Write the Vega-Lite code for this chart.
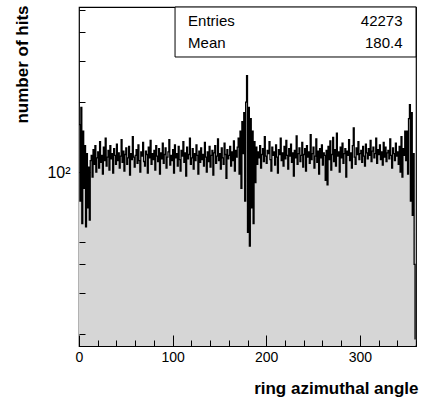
{
"$schema": "https://vega.github.io/schema/vega-lite/v6.json",
"width": 337, "height": 339,
"autosize": {"type": "none"},
"padding": {"left": 79, "top": 7, "right": 5, "bottom": 56},
"background": "white",
"config": {"view": {"stroke": "black", "strokeWidth": 1.2}, "font": "Liberation Sans", "axis": {"grid": false, "domain": false, "tickColor": "black", "labelColor": "black", "titleColor": "black", "labelFlush": false, "labelOverlap": false, "zindex": 1}},
"data": {"name": "hist", "values": [
{"lo":0,"hi":1,"n":160},{"lo":1,"hi":2,"n":75},{"lo":2,"hi":3,"n":190},{"lo":3,"hi":4,"n":60},{"lo":4,"hi":5,"n":150},{"lo":5,"hi":6,"n":85},{"lo":6,"hi":7,"n":130},{"lo":7,"hi":8,"n":58},{"lo":8,"hi":9,"n":120},{"lo":9,"hi":10,"n":70},
{"lo":10,"hi":11,"n":105},{"lo":11,"hi":12,"n":62},{"lo":12,"hi":13,"n":112},{"lo":13,"hi":14,"n":118},{"lo":14,"hi":15,"n":95},{"lo":15,"hi":16,"n":125},{"lo":16,"hi":17,"n":108},{"lo":17,"hi":18,"n":130},{"lo":18,"hi":19,"n":100},{"lo":19,"hi":20,"n":115},
{"lo":20,"hi":21,"n":122},{"lo":21,"hi":22,"n":104},{"lo":22,"hi":23,"n":135},{"lo":23,"hi":24,"n":110},{"lo":24,"hi":25,"n":118},{"lo":25,"hi":26,"n":98},{"lo":26,"hi":27,"n":128},{"lo":27,"hi":28,"n":112},{"lo":28,"hi":29,"n":140},{"lo":29,"hi":30,"n":106},
{"lo":30,"hi":31,"n":116},{"lo":31,"hi":32,"n":124},{"lo":32,"hi":33,"n":102},{"lo":33,"hi":34,"n":130},{"lo":34,"hi":35,"n":114},{"lo":35,"hi":36,"n":120},{"lo":36,"hi":37,"n":99},{"lo":37,"hi":38,"n":126},{"lo":38,"hi":39,"n":118},{"lo":39,"hi":40,"n":108},
{"lo":40,"hi":41,"n":132},{"lo":41,"hi":42,"n":112},{"lo":42,"hi":43,"n":121},{"lo":43,"hi":44,"n":104},{"lo":44,"hi":45,"n":117},{"lo":45,"hi":46,"n":138},{"lo":46,"hi":47,"n":110},{"lo":47,"hi":48,"n":123},{"lo":48,"hi":49,"n":101},{"lo":49,"hi":50,"n":119},
{"lo":50,"hi":51,"n":127},{"lo":51,"hi":52,"n":108},{"lo":52,"hi":53,"n":115},{"lo":53,"hi":54,"n":129},{"lo":54,"hi":55,"n":97},{"lo":55,"hi":56,"n":120},{"lo":56,"hi":57,"n":113},{"lo":57,"hi":58,"n":142},{"lo":58,"hi":59,"n":116},{"lo":59,"hi":60,"n":105},
{"lo":60,"hi":61,"n":118},{"lo":61,"hi":62,"n":125},{"lo":62,"hi":63,"n":109},{"lo":63,"hi":64,"n":131},{"lo":64,"hi":65,"n":112},{"lo":65,"hi":66,"n":100},{"lo":66,"hi":67,"n":122},{"lo":67,"hi":68,"n":117},{"lo":68,"hi":69,"n":134},{"lo":69,"hi":70,"n":111},
{"lo":70,"hi":71,"n":106},{"lo":71,"hi":72,"n":123},{"lo":72,"hi":73,"n":119},{"lo":73,"hi":74,"n":99},{"lo":74,"hi":75,"n":128},{"lo":75,"hi":76,"n":115},{"lo":76,"hi":77,"n":137},{"lo":77,"hi":78,"n":108},{"lo":78,"hi":79,"n":120},{"lo":79,"hi":80,"n":113},
{"lo":80,"hi":81,"n":124},{"lo":81,"hi":82,"n":102},{"lo":82,"hi":83,"n":130},{"lo":83,"hi":84,"n":117},{"lo":84,"hi":85,"n":111},{"lo":85,"hi":86,"n":126},{"lo":86,"hi":87,"n":98},{"lo":87,"hi":88,"n":121},{"lo":88,"hi":89,"n":114},{"lo":89,"hi":90,"n":133},
{"lo":90,"hi":91,"n":109},{"lo":91,"hi":92,"n":119},{"lo":92,"hi":93,"n":127},{"lo":93,"hi":94,"n":104},{"lo":94,"hi":95,"n":116},{"lo":95,"hi":96,"n":122},{"lo":96,"hi":97,"n":138},{"lo":97,"hi":98,"n":107},{"lo":98,"hi":99,"n":118},{"lo":99,"hi":100,"n":112},
{"lo":100,"hi":101,"n":125},{"lo":101,"hi":102,"n":99},{"lo":102,"hi":103,"n":131},{"lo":103,"hi":104,"n":115},{"lo":104,"hi":105,"n":120},{"lo":105,"hi":106,"n":106},{"lo":106,"hi":107,"n":129},{"lo":107,"hi":108,"n":113},{"lo":108,"hi":109,"n":101},{"lo":109,"hi":110,"n":124},
{"lo":110,"hi":111,"n":117},{"lo":111,"hi":112,"n":135},{"lo":112,"hi":113,"n":110},{"lo":113,"hi":114,"n":121},{"lo":114,"hi":115,"n":96},{"lo":115,"hi":116,"n":128},{"lo":116,"hi":117,"n":114},{"lo":117,"hi":118,"n":119},{"lo":118,"hi":119,"n":140},{"lo":119,"hi":120,"n":108},
{"lo":120,"hi":121,"n":115},{"lo":121,"hi":122,"n":126},{"lo":122,"hi":123,"n":103},{"lo":123,"hi":124,"n":120},{"lo":124,"hi":125,"n":112},{"lo":125,"hi":126,"n":131},{"lo":126,"hi":127,"n":118},{"lo":127,"hi":128,"n":98},{"lo":128,"hi":129,"n":123},{"lo":129,"hi":130,"n":110},
{"lo":130,"hi":131,"n":127},{"lo":131,"hi":132,"n":113},{"lo":132,"hi":133,"n":119},{"lo":133,"hi":134,"n":106},{"lo":134,"hi":135,"n":134},{"lo":135,"hi":136,"n":116},{"lo":136,"hi":137,"n":100},{"lo":137,"hi":138,"n":122},{"lo":138,"hi":139,"n":111},{"lo":139,"hi":140,"n":129},
{"lo":140,"hi":141,"n":105},{"lo":141,"hi":142,"n":118},{"lo":142,"hi":143,"n":124},{"lo":143,"hi":144,"n":97},{"lo":144,"hi":145,"n":121},{"lo":145,"hi":146,"n":130},{"lo":146,"hi":147,"n":109},{"lo":147,"hi":148,"n":117},{"lo":148,"hi":149,"n":139},{"lo":149,"hi":150,"n":112},
{"lo":150,"hi":151,"n":120},{"lo":151,"hi":152,"n":103},{"lo":152,"hi":153,"n":127},{"lo":153,"hi":154,"n":115},{"lo":154,"hi":155,"n":108},{"lo":155,"hi":156,"n":133},{"lo":156,"hi":157,"n":119},{"lo":157,"hi":158,"n":94},{"lo":158,"hi":159,"n":125},{"lo":159,"hi":160,"n":114},
{"lo":160,"hi":161,"n":118},{"lo":161,"hi":162,"n":129},{"lo":162,"hi":163,"n":106},{"lo":163,"hi":164,"n":122},{"lo":164,"hi":165,"n":112},{"lo":165,"hi":166,"n":136},{"lo":166,"hi":167,"n":101},{"lo":167,"hi":168,"n":124},{"lo":168,"hi":169,"n":116},{"lo":169,"hi":170,"n":128},
{"lo":170,"hi":171,"n":140},{"lo":171,"hi":172,"n":98},{"lo":172,"hi":173,"n":150},{"lo":173,"hi":174,"n":85},{"lo":174,"hi":175,"n":165},{"lo":175,"hi":176,"n":120},{"lo":176,"hi":177,"n":180},{"lo":177,"hi":178,"n":75},{"lo":178,"hi":179,"n":200},{"lo":179,"hi":180,"n":260},
{"lo":180,"hi":181,"n":55},{"lo":181,"hi":182,"n":190},{"lo":182,"hi":183,"n":48},{"lo":183,"hi":184,"n":170},{"lo":184,"hi":185,"n":70},{"lo":185,"hi":186,"n":150},{"lo":186,"hi":187,"n":60},{"lo":187,"hi":188,"n":135},{"lo":188,"hi":189,"n":90},{"lo":189,"hi":190,"n":128},
{"lo":190,"hi":191,"n":108},{"lo":191,"hi":192,"n":122},{"lo":192,"hi":193,"n":115},{"lo":193,"hi":194,"n":130},{"lo":194,"hi":195,"n":104},{"lo":195,"hi":196,"n":119},{"lo":196,"hi":197,"n":126},{"lo":197,"hi":198,"n":111},{"lo":198,"hi":199,"n":142},{"lo":199,"hi":200,"n":117},
{"lo":200,"hi":201,"n":109},{"lo":201,"hi":202,"n":124},{"lo":202,"hi":203,"n":120},{"lo":203,"hi":204,"n":135},{"lo":204,"hi":205,"n":113},{"lo":205,"hi":206,"n":101},{"lo":206,"hi":207,"n":128},{"lo":207,"hi":208,"n":118},{"lo":208,"hi":209,"n":122},{"lo":209,"hi":210,"n":107},
{"lo":210,"hi":211,"n":131},{"lo":211,"hi":212,"n":116},{"lo":212,"hi":213,"n":99},{"lo":213,"hi":214,"n":125},{"lo":214,"hi":215,"n":119},{"lo":215,"hi":216,"n":140},{"lo":216,"hi":217,"n":112},{"lo":217,"hi":218,"n":121},{"lo":218,"hi":219,"n":106},{"lo":219,"hi":220,"n":129},
{"lo":220,"hi":221,"n":114},{"lo":221,"hi":222,"n":137},{"lo":222,"hi":223,"n":118},{"lo":223,"hi":224,"n":103},{"lo":224,"hi":225,"n":126},{"lo":225,"hi":226,"n":117},{"lo":226,"hi":227,"n":132},{"lo":227,"hi":228,"n":110},{"lo":228,"hi":229,"n":121},{"lo":229,"hi":230,"n":96},
{"lo":230,"hi":231,"n":124},{"lo":231,"hi":232,"n":115},{"lo":232,"hi":233,"n":143},{"lo":233,"hi":234,"n":108},{"lo":234,"hi":235,"n":120},{"lo":235,"hi":236,"n":127},{"lo":236,"hi":237,"n":111},{"lo":237,"hi":238,"n":118},{"lo":238,"hi":239,"n":134},{"lo":239,"hi":240,"n":105},
{"lo":240,"hi":241,"n":119},{"lo":241,"hi":242,"n":126},{"lo":242,"hi":243,"n":101},{"lo":243,"hi":244,"n":130},{"lo":244,"hi":245,"n":116},{"lo":245,"hi":246,"n":122},{"lo":246,"hi":247,"n":109},{"lo":247,"hi":248,"n":145},{"lo":248,"hi":249,"n":113},{"lo":249,"hi":250,"n":120},
{"lo":250,"hi":251,"n":128},{"lo":251,"hi":252,"n":104},{"lo":252,"hi":253,"n":117},{"lo":253,"hi":254,"n":139},{"lo":254,"hi":255,"n":110},{"lo":255,"hi":256,"n":123},{"lo":256,"hi":257,"n":98},{"lo":257,"hi":258,"n":126},{"lo":258,"hi":259,"n":115},{"lo":259,"hi":260,"n":131},
{"lo":260,"hi":261,"n":107},{"lo":261,"hi":262,"n":121},{"lo":262,"hi":263,"n":118},{"lo":263,"hi":264,"n":92},{"lo":264,"hi":265,"n":124},{"lo":265,"hi":266,"n":88},{"lo":266,"hi":267,"n":129},{"lo":267,"hi":268,"n":113},{"lo":268,"hi":269,"n":136},{"lo":269,"hi":270,"n":102},
{"lo":270,"hi":271,"n":119},{"lo":271,"hi":272,"n":141},{"lo":272,"hi":273,"n":111},{"lo":273,"hi":274,"n":125},{"lo":274,"hi":275,"n":106},{"lo":275,"hi":276,"n":147},{"lo":276,"hi":277,"n":117},{"lo":277,"hi":278,"n":122},{"lo":278,"hi":279,"n":100},{"lo":279,"hi":280,"n":128},
{"lo":280,"hi":281,"n":115},{"lo":281,"hi":282,"n":133},{"lo":282,"hi":283,"n":109},{"lo":283,"hi":284,"n":120},{"lo":284,"hi":285,"n":126},{"lo":285,"hi":286,"n":95},{"lo":286,"hi":287,"n":123},{"lo":287,"hi":288,"n":118},{"lo":288,"hi":289,"n":138},{"lo":289,"hi":290,"n":112},
{"lo":290,"hi":291,"n":121},{"lo":291,"hi":292,"n":104},{"lo":292,"hi":293,"n":130},{"lo":293,"hi":294,"n":155},{"lo":294,"hi":295,"n":116},{"lo":295,"hi":296,"n":108},{"lo":296,"hi":297,"n":127},{"lo":297,"hi":298,"n":119},{"lo":298,"hi":299,"n":135},{"lo":299,"hi":300,"n":113},
{"lo":300,"hi":301,"n":120},{"lo":301,"hi":302,"n":124},{"lo":302,"hi":303,"n":110},{"lo":303,"hi":304,"n":129},{"lo":304,"hi":305,"n":117},{"lo":305,"hi":306,"n":106},{"lo":306,"hi":307,"n":132},{"lo":307,"hi":308,"n":121},{"lo":308,"hi":309,"n":114},{"lo":309,"hi":310,"n":126},
{"lo":310,"hi":311,"n":118},{"lo":311,"hi":312,"n":137},{"lo":312,"hi":313,"n":111},{"lo":313,"hi":314,"n":123},{"lo":314,"hi":315,"n":128},{"lo":315,"hi":316,"n":115},{"lo":316,"hi":317,"n":120},{"lo":317,"hi":318,"n":140},{"lo":318,"hi":319,"n":109},{"lo":319,"hi":320,"n":125},
{"lo":320,"hi":321,"n":119},{"lo":321,"hi":322,"n":131},{"lo":322,"hi":323,"n":113},{"lo":323,"hi":324,"n":122},{"lo":324,"hi":325,"n":107},{"lo":325,"hi":326,"n":134},{"lo":326,"hi":327,"n":116},{"lo":327,"hi":328,"n":128},{"lo":328,"hi":329,"n":111},{"lo":329,"hi":330,"n":121},
{"lo":330,"hi":331,"n":124},{"lo":331,"hi":332,"n":114},{"lo":332,"hi":333,"n":139},{"lo":333,"hi":334,"n":118},{"lo":334,"hi":335,"n":104},{"lo":335,"hi":336,"n":127},{"lo":336,"hi":337,"n":120},{"lo":337,"hi":338,"n":112},{"lo":338,"hi":339,"n":133},{"lo":339,"hi":340,"n":117},
{"lo":340,"hi":341,"n":122},{"lo":341,"hi":342,"n":108},{"lo":342,"hi":343,"n":129},{"lo":343,"hi":344,"n":100},{"lo":344,"hi":345,"n":142},{"lo":345,"hi":346,"n":95},{"lo":346,"hi":347,"n":126},{"lo":347,"hi":348,"n":118},{"lo":348,"hi":349,"n":150},{"lo":349,"hi":350,"n":112},
{"lo":350,"hi":351,"n":150},{"lo":351,"hi":352,"n":98},{"lo":352,"hi":353,"n":170},{"lo":353,"hi":354,"n":195},{"lo":354,"hi":355,"n":75},{"lo":355,"hi":356,"n":180},{"lo":356,"hi":357,"n":65},{"lo":357,"hi":358,"n":120},{"lo":358,"hi":359,"n":40},{"lo":359,"hi":360,"n":19}
]},
"layer": [
{"mark": {"type": "area", "interpolate": "step-after", "fill": "#d6d6d6"},
 "encoding": {
  "x": {"field": "lo", "type": "quantitative", "scale": {"domain": [0, 360], "nice": false, "zero": false},
   "axis": {"values": [0,20,40,60,80,100,120,140,160,180,200,220,240,260,280,300,320,340,360], "tickCount": 100,
     "labelExpr": "datum.value % 100 === 0 && datum.value < 360 ? datum.label : ''",
     "tickSize": {"condition": {"test": "datum.value % 100 === 0", "value": -11}, "value": -6},
     "labelPadding": 15, "labelFontSize": 14, "labelFont": "Liberation Sans", "labelOverlap": false, "zindex": 1,
     "title": "ring azimuthal angle", "titleFont": "Liberation Sans", "titleFontSize": 17, "titleFontWeight": "bold",
     "titleX": 339, "titleY": 47, "titleAlign": "right", "titleBaseline": "alphabetic", "titleAnchor": "end"}},
  "y": {"field": "n", "type": "quantitative", "scale": {"type": "log", "domain": [17.8, 514], "nice": false},
   "axis": {"values": [20,30,40,50,100,200,300,400,500], "tickCount": 100,
     "labelExpr": "datum.value === 100 ? '10²' : ''",
     "tickSize": {"condition": {"test": "datum.value === 100", "value": -11}, "value": -6},
     "labelPadding": 20, "labelFontSize": 16, "labelFont": "Liberation Sans", "labelOverlap": false, "zindex": 1,
     "title": "number of hits", "titleFont": "Liberation Sans", "titleFontSize": 17, "titleFontWeight": "bold",
     "titleX": -52, "titleY": -2, "titleAlign": "right", "titleBaseline": "alphabetic", "titleAngle": -90}},
  "y2": {"datum": 17.8}
 }},
{"mark": {"type": "line", "interpolate": "step-after", "color": "black", "strokeWidth": 1.3},
 "encoding": {"x": {"field": "lo", "type": "quantitative"}, "y": {"field": "n", "type": "quantitative"}}},
{"data": {"values": [{}]},
 "mark": {"type": "rect", "fill": "white", "stroke": "black", "strokeWidth": 1},
 "encoding": {"x": {"datum": 102.6}, "x2": {"datum": 360}, "y": {"datum": 514}, "y2": {"datum": 313}}},
{"data": {"values": [{}]},
 "mark": {"type": "text", "text": "Entries", "align": "left", "baseline": "alphabetic", "fontSize": 15, "font": "Liberation Sans", "color": "black"},
 "encoding": {"x": {"datum": 116.5}, "y": {"datum": 426}}},
{"data": {"values": [{}]},
 "mark": {"type": "text", "text": "42273", "align": "right", "baseline": "alphabetic", "fontSize": 15, "font": "Liberation Sans", "color": "black"},
 "encoding": {"x": {"datum": 345.6}, "y": {"datum": 426}}},
{"data": {"values": [{}]},
 "mark": {"type": "text", "text": "Mean", "align": "left", "baseline": "alphabetic", "fontSize": 15, "font": "Liberation Sans", "color": "black"},
 "encoding": {"x": {"datum": 116.5}, "y": {"datum": 342}}},
{"data": {"values": [{}]},
 "mark": {"type": "text", "text": "180.4", "align": "right", "baseline": "alphabetic", "fontSize": 15, "font": "Liberation Sans", "color": "black"},
 "encoding": {"x": {"datum": 345.6}, "y": {"datum": 342}}}
]
}
